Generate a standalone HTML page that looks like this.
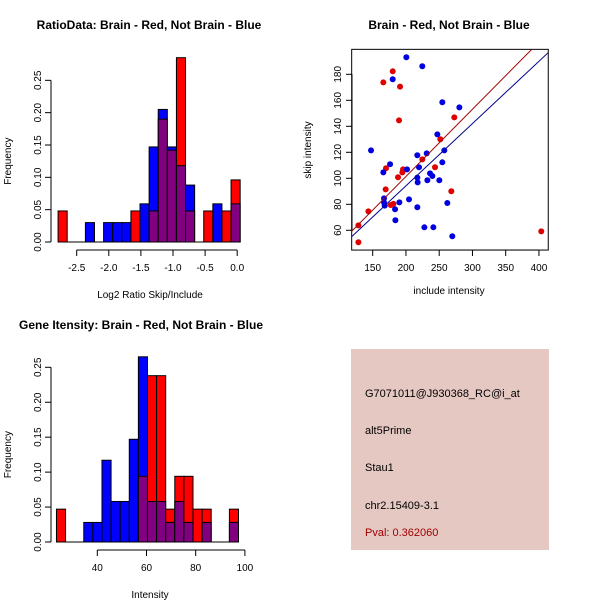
<!DOCTYPE html>
<html><head><meta charset="utf-8"><style>
body{margin:0;background:#fff}
svg{display:block;font-family:"Liberation Sans",sans-serif}
</style></head><body>
<svg id="chart" width="600" height="600" viewBox="0 0 600 600">
<rect width="600" height="600" fill="#fff"/>
<g id="p1"></g>
<g id="p2"></g>
<g id="p3"></g>
<g>
<rect x="351" y="349" width="198" height="201" fill="#e6c8c2"/>
<text x="365" y="397" font-size="11" fill="#000">G7071011@J930368_RC@i_at</text>
<text x="365" y="434" font-size="11" fill="#000">alt5Prime</text>
<text x="365" y="471" font-size="11" fill="#000">Stau1</text>
<text x="365" y="509" font-size="11" fill="#000">chr2.15409-3.1</text>
<text x="365" y="536" font-size="11" fill="#a00000">Pval: 0.362060</text>
</g>
</svg>
<script>
// Ratio histogram data (bins of ~0.142 starting at -2.79)
const ratioRed  = [0.048,0,0,0,0,0,0,0,0.048,0,0.048,0.19,0.142,0.285,0.048,0,0.048,0,0.048,0.096];
const ratioBlue = [0,0,0,0.03,0,0.03,0.03,0.03,0,0.059,0.147,0.205,0.147,0.118,0.088,0,0,0.059,0,0.059];
const ratioTicks = [-2.5,-2.0,-1.5,-1.0,-0.5,0.0];
const ratioTickLabels = ["-2.5","-2.0","-1.5","-1.0","-0.5","0.0"];
// Intensity histogram data (bins of ~3.7 starting at 23.4)
const intRed  = [0.047,0,0,0,0,0,0,0,0,0.094,0.238,0.238,0.047,0.094,0.094,0.047,0.047,0,0,0.047];
const intBlue = [0,0,0,0.028,0.028,0.117,0.058,0.058,0.147,0.265,0.058,0.058,0.028,0.058,0.028,0,0.028,0,0,0.028];
const intTicks = [40,60,80,100];
const freqTicks = [0,0.05,0.10,0.15,0.20,0.25];
const freqTickLabels = ["0.00","0.05","0.10","0.15","0.20","0.25"];
// Scatter data
const redX  = [128.5,128.5,143.5,166.0,180.1,191.1,189.6,188.1,169.5,170.0,177.1,181.1,195.6,194.6,224.6,243.7,251.7,272.7,268.2,403.5];
const redY  = [50.8,63.8,74.6,173.8,182.3,170.5,144.6,100.8,91.5,107.7,79.5,80.3,106.9,104.6,114.6,108.5,130.0,146.9,90.0,59.2];
const blueX = [200.6,224.6,180.1,254.7,280.3,147.5,247.2,231.2,257.7,254.7,176.1,166.0,217.1,219.6,201.6,217.1,217.6,232.2,236.2,239.7,250.2,167.0,167.0,168.0,190.1,204.6,183.6,184.1,217.1,227.7,241.2,262.2,269.7];
const blueY = [193.1,186.2,176.2,158.5,154.6,121.5,133.8,119.2,121.5,112.3,110.8,104.6,117.7,108.5,106.9,100.5,96.9,98.5,103.8,101.8,98.5,84.6,81.5,79.0,81.5,83.8,76.2,67.7,77.7,62.3,62.3,81.0,55.4];
const redFit = [-2.0,0.517];
const blueFit = [-1.6,0.479];
const scatXTicks = [150,200,250,300,350,400];
const scatYTicks = [60,80,100,120,140,160,180];

const NS="http://www.w3.org/2000/svg";
function mk(parent,tag,attrs){const e=document.createElementNS(NS,tag);for(const k in attrs)e.setAttribute(k,attrs[k]);parent.appendChild(e);return e;}
function txt(parent,x,y,s,size,extra){const t=mk(parent,'text',Object.assign({x:x,y:y,'font-size':size,'text-anchor':'middle',fill:'#000'},extra||{}));t.textContent=s;return t;}

function histogram(g,red,blue,x0,bw,xs,ys,y0,yTop,title,xlabel,ticks,tickLabels,titleX){
  mk(g,'line',{x1:51,x2:51,y1:ys(0),y2:ys(0.25),stroke:'#000'});
  freqTicks.forEach((v,i)=>{
    mk(g,'line',{x1:45,x2:51,y1:ys(v),y2:ys(v),stroke:'#000'});
    const t=txt(g,0,0,freqTickLabels[i],10,{transform:`translate(41,${ys(v)}) rotate(-90)`});
    
    
  });
  const yl=txt(g,0,0,'Frequency',10,{transform:`translate(11,${(ys(0)+ys(0.25))/2}) rotate(-90)`});
  
  
  mk(g,'line',{x1:xs(x0),x2:xs(x0+bw*red.length),y1:ys(0),y2:ys(0),stroke:'#000'});
  for(let i=0;i<red.length;i++){
    const r=red[i],b=blue[i];const hi=Math.max(r,b),lo=Math.min(r,b);
    const xa=xs(x0+bw*i),xb=xs(x0+bw*(i+1));
    if(hi>0){
      const rc=mk(g,'rect',{x:xa,y:ys(hi),width:xb-xa,height:ys(0)-ys(hi),fill:r>=b?'#ff0000':'#0000ff',stroke:'#000','stroke-width':1});
      
      
    }
    if(lo>0){
      const rc=mk(g,'rect',{x:xa,y:ys(lo),width:xb-xa,height:ys(0)-ys(lo),fill:'#800080',stroke:'#000','stroke-width':1});
      
      
    }
  }
  const xa=xs(ticks[0]),xb=xs(ticks[ticks.length-1]);
  mk(g,'line',{x1:xa,x2:xb,y1:y0,y2:y0,stroke:'#000'});
  ticks.forEach((v,i)=>{
    mk(g,'line',{x1:xs(v),x2:xs(v),y1:y0,y2:y0+6,stroke:'#000'});
    const t=txt(g,xs(v),y0+21,tickLabels[i],10);
    
    
  });
  const xl=txt(g,150,y0+48,xlabel,10);
  
  
  const tt=txt(g,titleX,yTop,title,12,{'font-weight':'bold'});
  
  
}

{
  const g=document.getElementById('p1');
  const xs=v=>76.7+(v+2.5)*64.2;
  const ys=v=>242-v*646.7;
  histogram(g,ratioRed,ratioBlue,-2.79,0.1418,xs,ys,250,29,'RatioData: Brain - Red, Not Brain - Blue','Log2 Ratio Skip/Include',ratioTicks,ratioTickLabels,149);
}
{
  const g=document.getElementById('p3');
  const xs=v=>97.3+(v-40)*2.46;
  const ys=v=>542-v*698.8;
  histogram(g,intRed,intBlue,23.4,3.7,xs,ys,550,329,'Gene Itensity: Brain - Red, Not Brain - Blue','Intensity',intTicks,intTicks.map(String),141);
}
{
  const g=document.getElementById('p2');
  const xs=v=>372.7+(v-150)*0.665;
  const ys=v=>230.3-(v-60)*1.3;
  const xmin=118.4,xmax=414,ymin=44.8,ymax=199.2;
  const box=mk(g,'rect',{x:xs(xmin),y:ys(ymax),width:xs(xmax)-xs(xmin),height:ys(ymin)-ys(ymax),fill:'none',stroke:'#000'});
  
  
  const cp=mk(g,'clipPath',{id:'sc'});mk(cp,'rect',{x:xs(xmin),y:ys(ymax),width:xs(xmax)-xs(xmin),height:ys(ymin)-ys(ymax)});
  scatXTicks.forEach(v=>{
    mk(g,'line',{x1:xs(v),x2:xs(v),y1:250,y2:256,stroke:'#000'});
    const t=txt(g,xs(v),271,String(v),10);
    
    
  });
  mk(g,'line',{x1:xs(150),x2:xs(400),y1:250,y2:250,stroke:'#000'});
  scatYTicks.forEach(v=>{
    mk(g,'line',{x1:346,x2:352,y1:ys(v),y2:ys(v),stroke:'#000'});
    const t=txt(g,0,0,String(v),10,{transform:`translate(341,${ys(v)}) rotate(-90)`});
    
    
  });
  mk(g,'line',{x1:352,x2:352,y1:ys(60),y2:ys(180),stroke:'#000'});
  const xl=txt(g,449,294,'include intensity',10);
  
  
  const yl=txt(g,0,0,'skip intensity',10,{transform:`translate(311,150) rotate(-90)`});
  
  
  const tt=txt(g,449,29,'Brain - Red, Not Brain - Blue',12,{'font-weight':'bold'});
  
  
  redX.forEach((x,i)=>{
    const c=mk(g,'circle',{cx:xs(x),cy:ys(redY[i]),r:3,fill:'#e00000'});
    
    
  });
  blueX.forEach((x,i)=>{
    const c=mk(g,'circle',{cx:xs(x),cy:ys(blueY[i]),r:3,fill:'#0000e0'});
    
    
  });
  const l1=mk(g,'line',{x1:xs(xmin),y1:ys(redFit[0]+redFit[1]*xmin),x2:xs(xmax),y2:ys(redFit[0]+redFit[1]*xmax),stroke:'#a00000','clip-path':'url(#sc)'});
  
  
  const l2=mk(g,'line',{x1:xs(xmin),y1:ys(blueFit[0]+blueFit[1]*xmin),x2:xs(xmax),y2:ys(blueFit[0]+blueFit[1]*xmax),stroke:'#00008b','clip-path':'url(#sc)'});
  
  
}
</script>
</body></html>
